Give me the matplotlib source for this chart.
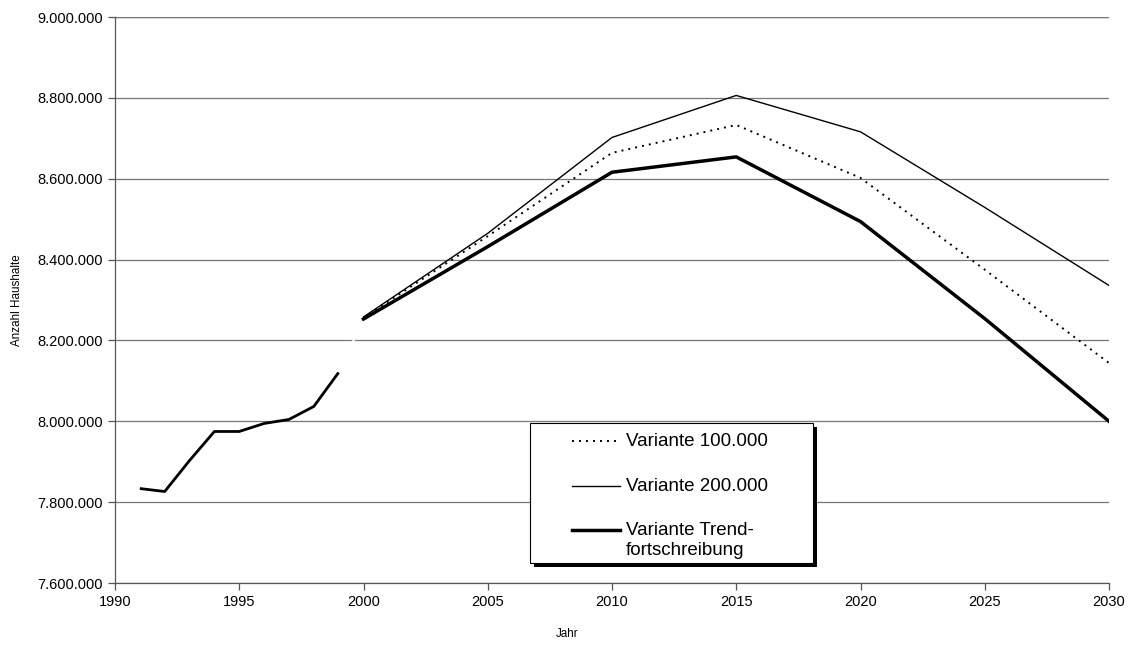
import numpy as np
import matplotlib
matplotlib.use("Agg")
import matplotlib.pyplot as plt
from matplotlib.ticker import FuncFormatter, MultipleLocator
from matplotlib.patches import Rectangle

plt.rcParams['font.family'] = ['Liberation Sans', 'DejaVu Sans']

# historical households (Ist-Werte)
years_hist = [1991, 1992, 1993, 1994, 1995, 1996, 1997, 1998, 1999]
hh_hist = [7833700, 7826300, 7903000, 7974800, 7974800, 7994600, 8004500, 8036700, 8120800]

# projection variants
years_proj = [2000, 2005, 2010, 2015, 2020, 2025, 2030]
var_100 = [8256000, 8458000, 8664000, 8733000, 8602000, 8375000, 8144000]
var_200 = [8258000, 8465000, 8702000, 8806000, 8716000, 8529000, 8336000]
var_trend = [8253000, 8432000, 8616000, 8654000, 8494000, 8254000, 8000000]

labels = ["Variante 100.000", "Variante 200.000", "Variante Trend-\nfortschreibung"]

W, H = 1130, 646
fig = plt.figure(figsize=(W / 100, H / 100), dpi=100)
ax = fig.add_axes([115 / W, 1 - 583 / H, (1109 - 115) / W, (583 - 17) / H])

ax.set_xlim(1990, 2030)
ax.set_ylim(7600000, 9000000)
ax.xaxis.set_major_locator(MultipleLocator(5))
ax.yaxis.set_major_locator(MultipleLocator(200000))
ax.yaxis.set_major_formatter(FuncFormatter(lambda v, p: f"{v:,.0f}".replace(",", ".")))

ax.grid(axis='y', color='#777777', lw=0.9, zorder=0)
ax.set_axisbelow(True)
for s in ['top', 'right']:
    ax.spines[s].set_visible(False)
for s in ['left', 'bottom']:
    ax.spines[s].set_color('#555555')
    ax.spines[s].set_linewidth(0.9)
ax.tick_params(direction='out', length=5, width=0.9, color='#555555', labelsize=10.5, pad=4)

# top gridline at 9.000.000
ax.axhline(9000000, color='#555555', lw=0.9, zorder=0)

# history
ax.plot(years_hist, hh_hist, color='black', lw=2.0, solid_capstyle='butt', zorder=3)
# white connector between history and projection (hides grid)
ax.plot([years_hist[-1], years_proj[0]], [hh_hist[-1], var_trend[0]], color='white', lw=1.5, zorder=2)

ax.plot(years_proj, var_200, color='black', lw=1.0, zorder=3)
ax.plot(years_proj, var_100, color='black', lw=1.4, linestyle=(0, (1, 2.6)), zorder=3)
ax.plot(years_proj, var_trend, color='black', lw=2.5, zorder=4)

fig.text(17 / W, 1 - 300 / H, "Anzahl Haushalte", rotation=90, ha='center', va='center', fontsize=8.4)
fig.text(567 / W, 1 - 634 / H, "Jahr", ha='center', va='center', fontsize=8.4)

# legend box drawn in pixel coordinates
lg = fig.add_axes([520 / W, 1 - 575 / H, 305 / W, 160 / H], zorder=10)
lg.set_xlim(520, 825)
lg.set_ylim(575, 415)
lg.set_axis_off()
lg.add_patch(Rectangle((534, 427), 283, 140, facecolor='black', edgecolor='none'))
lg.add_patch(Rectangle((530, 423), 283, 140, facecolor='white', edgecolor='black', lw=0.8))
lg.plot([572, 620], [441, 441], color='black', lw=1.4, linestyle=(0, (1, 2.6)))
lg.plot([572, 620], [486, 486], color='black', lw=1.0)
lg.plot([572, 620], [530, 530], color='black', lw=2.5)
lg.text(626, 441, labels[0], fontsize=13.5, va='center', ha='left')
lg.text(626, 486, labels[1], fontsize=13.5, va='center', ha='left')
lg.text(626, 540.5, labels[2], fontsize=13.5, va='center', ha='left', linespacing=1.2)

fig.savefig("out.png", dpi=100)
